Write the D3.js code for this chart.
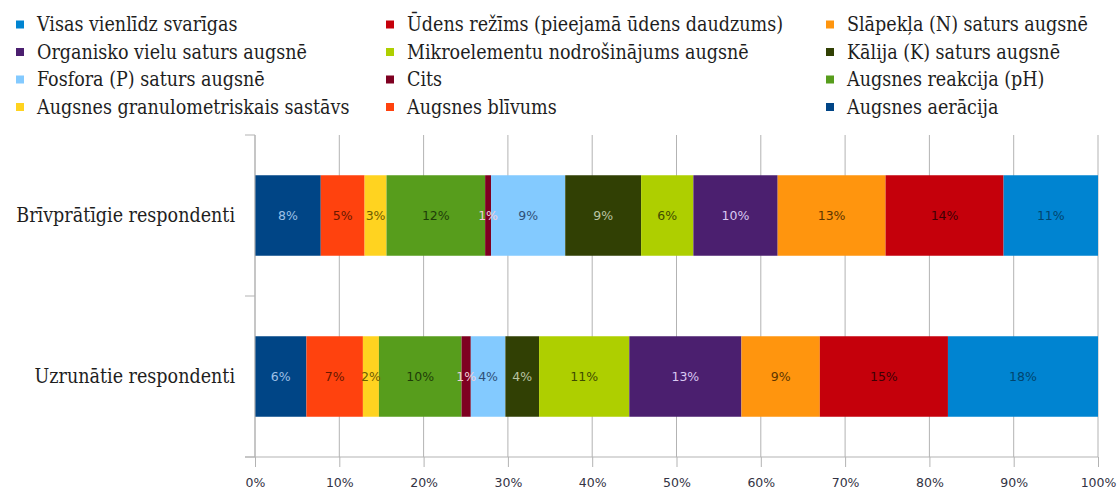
<!DOCTYPE html>
<html>
<head>
<meta charset="utf-8">
<script src="https://cdn.jsdelivr.net/npm/d3@7"></script>
<style>
  body { margin: 0; background: #fff; }
  svg { display: block; }
</style>
</head>
<body>
<div id="chart"></div>
<script>
// Categories (top to bottom)
var categories = ["Brīvprātīgie respondenti", "Uzrunātie respondenti"];

// Series in stacking order (left to right)
var seriesNames = [
  "Augsnes aerācija",
  "Augsnes blīvums",
  "Augsnes granulometriskais sastāvs",
  "Augsnes reakcija (pH)",
  "Cits",
  "Fosfora (P) saturs augsnē",
  "Kālija (K) saturs augsnē",
  "Mikroelementu nodrošinājums augsnē",
  "Organisko vielu saturs augsnē",
  "Slāpekļa (N) saturs augsnē",
  "Ūdens režīms (pieejamā ūdens daudzums)",
  "Visas vienlīdz svarīgas"
];
var seriesColors = ["#004586", "#ff420e", "#ffd320", "#579d1c", "#7e0021", "#83caff",
                    "#314004", "#aecf00", "#4b1f6f", "#ff950e", "#c5000b", "#0084d1"];
var labelColors  = ["#9ec0e6", "#6a1800", "#6e5c00", "#1f3d08", "#f2cfd8", "#2f5078",
                    "#b9c4a2", "#3f4c00", "#d9c9f2", "#5e3600", "#3e0004", "#00456e"];

// Shares (%) per series, one value per category
var brivpratigie = [7.8, 5.2, 2.6, 11.7, 0.7, 8.8, 9.0, 6.2, 10.0, 12.8, 14.0, 11.2];
var uzrunatie    = [6.1, 6.7, 1.9, 9.8, 1.1, 4.1, 4.0, 10.7, 13.3, 9.3, 15.2, 17.8];

// X axis ticks
var xTicks = [0, 0.1, 0.2, 0.3, 0.4, 0.5, 0.6, 0.7, 0.8, 0.9, 1.0];

var W = 1117, H = 490;
var margin = { top: 135, right: 19, bottom: 33, left: 255 };
var width = W - margin.left - margin.right;
var height = H - margin.top - margin.bottom;

var serif = "'DejaVu Serif Condensed', 'DejaVu Serif', serif";

var svg = d3.select("#chart").append("svg")
  .attr("width", W)
  .attr("height", H);

var g = svg.append("g")
  .attr("transform", "translate(" + margin.left + "," + margin.top + ")");

var x = d3.scaleLinear().domain([0, 1]).range([0, width]);
var y = d3.scaleBand().domain(categories).range([0, height])
  .paddingInner(0.5).paddingOuter(0.25);

// build rows for stacking
var rows = categories.map(function (c, i) {
  var vals = i === 0 ? brivpratigie : uzrunatie;
  var row = { cat: c };
  seriesNames.forEach(function (s, j) { row[s] = vals[j] / 100; });
  return row;
});
var stacked = d3.stack().keys(seriesNames)(rows);

var gridColor = "#b3b3b3";

// vertical grid lines
g.append("g").selectAll("line")
  .data(xTicks)
  .join("line")
  .attr("x1", function (d) { return x(d); })
  .attr("x2", function (d) { return x(d); })
  .attr("y1", 0)
  .attr("y2", height)
  .attr("stroke", gridColor)
  .attr("stroke-width", 1);

// bars
var layers = g.append("g").selectAll("g")
  .data(stacked)
  .join("g")
  .attr("fill", function (d, i) { return seriesColors[i]; });

layers.selectAll("rect")
  .data(function (d) { return d; })
  .join("rect")
  .attr("x", function (d) { return x(d[0]); })
  .attr("width", function (d) { return x(d[1]) - x(d[0]); })
  .attr("y", function (d) { return y(d.data.cat); })
  .attr("height", y.bandwidth());

// value labels
var fmt = d3.format(".0%");
g.append("g").selectAll("g")
  .data(stacked)
  .join("g")
  .attr("fill", function (d, i) { return labelColors[i]; })
  .selectAll("text")
  .data(function (d) { return d; })
  .join("text")
  .attr("x", function (d) { return (x(d[0]) + x(d[1])) / 2; })
  .attr("y", function (d) { return y(d.data.cat) + y.bandwidth() / 2; })
  .attr("dy", "0.35em")
  .attr("text-anchor", "middle")
  .style("font-family", "DejaVu Sans, sans-serif")
  .style("font-size", "12.5px")
  .text(function (d) { return fmt(d[1] - d[0]); });

// x axis
var xAxis = g.append("g")
  .attr("transform", "translate(0," + height + ")")
  .call(d3.axisBottom(x).tickValues(xTicks).tickFormat(d3.format(".0%")).tickSize(10).tickSizeOuter(0));
xAxis.select(".domain").attr("stroke", gridColor).attr("d", "M-10,0H" + width);
xAxis.selectAll(".tick line").attr("stroke", gridColor);
xAxis.selectAll(".tick text")
  .attr("y", 21)
  .attr("fill", "#333344")
  .style("font-family", "DejaVu Sans, sans-serif")
  .style("font-size", "12.5px");

// y axis
var yAxis = g.append("g")
  .call(d3.axisLeft(y).tickSize(0).tickPadding(20));
yAxis.select(".domain").attr("stroke", gridColor).attr("d", "M0,0V" + height);
yAxis.selectAll(".tick text")
  .attr("fill", "#1e1e1e")
  .style("font-family", serif)
  .style("font-size", "19.5px");

// category separator ticks on the left axis
var sepTicks = [0, y.step(), height];
g.append("g").selectAll("line")
  .data(sepTicks)
  .join("line")
  .attr("x1", -10).attr("x2", 0)
  .attr("y1", function (d) { return d; })
  .attr("y2", function (d) { return d; })
  .attr("stroke", gridColor);

// legend: reverse order, 3 columns
var legendOrder = seriesNames.slice().reverse();
var colX = [16, 386, 826];
var rowY = [24.5, 52, 79.5, 107];
var legend = svg.append("g").selectAll("g")
  .data(legendOrder)
  .join("g")
  .attr("transform", function (d, i) {
    return "translate(" + colX[i % 3] + "," + rowY[Math.floor(i / 3)] + ")";
  });

legend.append("rect")
  .attr("x", 0).attr("y", -4)
  .attr("width", 8).attr("height", 8)
  .attr("fill", function (d) { return seriesColors[seriesNames.indexOf(d)]; });

legend.append("text")
  .attr("x", 21)
  .attr("dy", "0.35em")
  .attr("fill", "#1e1e1e")
  .style("font-family", serif)
  .style("font-size", "19.5px")
  .text(function (d) { return d; });
</script>
</body>
</html>
